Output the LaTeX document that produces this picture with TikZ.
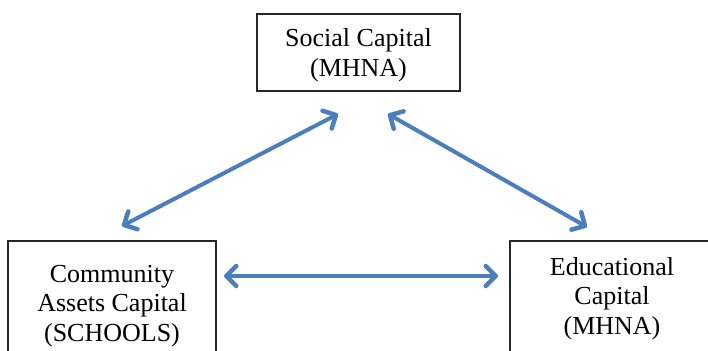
\documentclass[tikz,border=0pt]{standalone}
\usepackage{fontspec}
\setmainfont{Liberation Serif}
\usetikzlibrary{arrows.meta}
\definecolor{linkblue}{RGB}{74,126,189}
\tikzset{
  capbox/.style={draw=black!85, line width=2.2pt, fill=none, inner sep=0pt},
  captext/.style={align=center, inner sep=0pt, text=black,
    font=\fontsize{26}{29.5}\selectfont},
  linkbarb/.tip={Straight Barb[length=10pt,width=20pt,line width=4.5pt,round]},
  link/.style={draw=linkblue, line width=4pt, linkbarb-linkbarb}
}
\begin{document}
\begin{tikzpicture}[x=1pt,y=-1pt]
  \useasboundingbox (0,0) rectangle (708,350);
  \clip (0,0) rectangle (708,350);
  \fill[white] (0,0) rectangle (708,350);

  % boxes
  \node[capbox, minimum width=203pt, minimum height=77pt] (social) at (358.5,52.5) {};
  \node[capbox, minimum width=208pt, minimum height=130pt] (community) at (112,306) {};
  \node[capbox, minimum width=204pt, minimum height=130pt] (educational) at (612,306) {};

  % labels
  \node[captext] (socialtext) at (358.5,55) {Social Capital\\(MHNA)};
  \node[captext] (communitytext) at (112,306) {Community\\Assets Capital\\(SCHOOLS)};
  \node[captext] (educationaltext) at (612,298.5) {Educational\\Capital\\(MHNA)};

  % arrow end points
  \coordinate (sl) at (338,114);
  \coordinate (sr) at (388,114);
  \coordinate (cu) at (122,226);
  \coordinate (eu) at (587,227);
  \coordinate (ch) at (224,276);
  \coordinate (eh) at (498,276);

  % two-way links
  \draw[link] (cu) -- (sl);
  \draw[link] (sr) -- (eu);
  \draw[link] (ch) -- (eh);
\end{tikzpicture}
\end{document}
